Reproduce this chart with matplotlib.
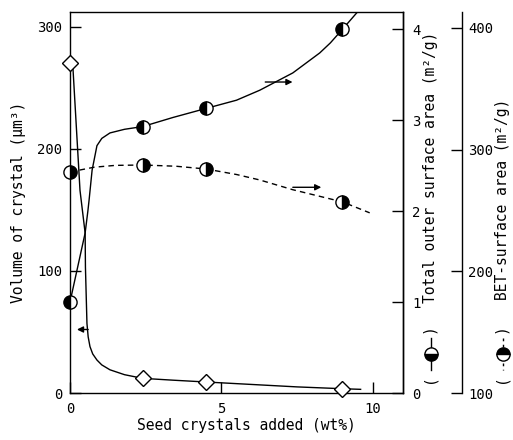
import matplotlib
matplotlib.use("Agg")
import matplotlib.pyplot as plt
from matplotlib.lines import Line2D

plt.rcParams["font.family"] = ["DejaVu Sans Mono", "DejaVu Sans"]

# Volume of crystal (left axis), open diamonds
vol_x = [0.0, 2.4, 4.5, 9.0]
vol_y = [270, 12, 9, 3.5]
vol_curve_x = [0, 0.1, 0.33, 0.5, 0.51, 0.56, 0.6, 0.66, 0.75, 0.89, 1.05, 1.32,
               1.8, 2.4, 3.4, 4.5, 6.0, 7.5, 9.0, 9.6]
vol_curve_y = [270, 265, 166, 131, 103, 57, 46, 38, 32, 27, 23, 19,
               15, 12, 10.5, 9, 7, 5, 3.5, 3]

# Total outer surface area (first right axis), solid line
outer_x = [0.0, 2.4, 4.5, 9.0]
outer_y = [1.0, 2.93, 3.13, 4.0]
outer_curve_x = [0, 0.25, 0.5, 0.59, 0.63, 0.73, 0.89, 1.05, 1.32, 1.8, 2.4,
                 3.4, 4.5, 5.5, 6.27, 7.36, 8.25, 8.6, 9.0, 9.47]
outer_curve_y = [1.0, 1.38, 1.76, 2.0, 2.12, 2.45, 2.72, 2.8, 2.86, 2.9, 2.93,
                 3.03, 3.13, 3.22, 3.33, 3.52, 3.74, 3.85, 4.0, 4.18]

# BET surface area (second right axis), dashed line
bet_x = [0.0, 2.4, 4.5, 9.0]
bet_y = [281.6, 287.3, 284, 257]
bet_curve_x = [0, 0.8, 1.5, 2.4, 3.5, 4.5, 5.5, 6.27, 7.36, 9.0, 9.9]
bet_curve_y = [281.6, 285.5, 287, 287.3, 286.3, 284, 279.5, 275, 267, 257, 248]

x_ticks = [0, 5, 10]
vol_ticks = [0, 100, 200, 300]
outer_ticks = [0, 1, 2, 3, 4]
bet_ticks = [100, 200, 300, 400]

fig = plt.figure(figsize=(5.13, 4.4), dpi=100)
ax = fig.add_axes([70 / 513, 1 - 393 / 440, 333 / 513, 381 / 440])
ax2 = ax.twinx()
ax3 = ax.twinx()

ax.set_xlim(0, 11.0)
ax.set_ylim(0, 312)
ax2.set_ylim(0, 4.19)
ax3.set_ylim(100, 413)

# curves
ax.plot(vol_curve_x, vol_curve_y, color="k", lw=1.0, zorder=2)
ax.plot(vol_x, vol_y, ls="none", marker="D", ms=8, mfc="white", mec="k", mew=1.0,
        zorder=4, clip_on=False)

ax2.plot(outer_curve_x, outer_curve_y, color="k", lw=1.0, zorder=2)
ax2.plot(outer_x, outer_y, ls="none", marker="o", ms=9.5, fillstyle="left",
         mfc="k", mfcalt="white", mec="k", mew=1.0, zorder=4, clip_on=False)

ax3.plot(bet_curve_x, bet_curve_y, color="k", lw=1.0, dashes=(4, 3), zorder=2)
ax3.plot(bet_x, bet_y, ls="none", marker="o", ms=9.5, fillstyle="right",
         mfc="k", mfcalt="white", mec="k", mew=1.0, zorder=4, clip_on=False)

# arrows pointing to the relevant axis
arrow = dict(arrowstyle="-|>", lw=1.0, color="k", mutation_scale=9, shrinkA=0, shrinkB=0)
ax.annotate("", xy=(0.23, 52), xytext=(0.6, 52), arrowprops=arrow)
ax2.annotate("", xy=(7.35, 3.42), xytext=(6.45, 3.42), arrowprops=arrow)
ax3.annotate("", xy=(8.3, 269), xytext=(7.36, 269), arrowprops=arrow)

# axes styling
ax.set_xticks(x_ticks)
ax.set_yticks(vol_ticks)
ax.tick_params(axis="both", direction="in", length=8, width=1.0, labelsize=10)
ax.tick_params(axis="y", pad=5.5)
ax.tick_params(axis="x", pad=6.5)
for s in ax.spines.values():
    s.set_linewidth(1.0)

ax2.set_yticks(outer_ticks)
ax2.tick_params(axis="y", direction="in", length=8, width=1.0, labelsize=10, pad=6.5)
for name, s in ax2.spines.items():
    s.set_visible(name == "right")
    s.set_linewidth(1.0)

ax3.set_yticks(bet_ticks)
ax3.tick_params(axis="y", direction="in", length=8, width=1.0, labelsize=10, pad=4.5)
for name, s in ax3.spines.items():
    s.set_visible(name == "right")
ax3.spines["right"].set_position(("axes", (462 - 70) / 333))
ax3.spines["right"].set_linewidth(1.0)

ax.set_ylabel("Volume of crystal (\u03bcm\u00b3)", fontsize=10.5, labelpad=8)
ax.set_xlabel("Seed crystals added (wt%)", fontsize=10.5)
ax.xaxis.set_label_coords((246 - 70) / 333, -(425 - 393) / 381, transform=ax.transAxes)
ax.xaxis.label.set_va("center")


def fx(px):
    return px / 513


def fy(py):
    return 1 - py / 440


# right-hand labels with their legend keys
fig.text(fx(431), fy(303), "Total outer surface area (m\u00b2/g)", rotation=90,
         ha="center", va="bottom", fontsize=10.5)
fig.text(fx(429), fy(329), ")", rotation=90, ha="center", va="center", fontsize=10.5)
fig.text(fx(429), fy(379), "(", rotation=90, ha="center", va="center", fontsize=10.5)
fig.add_artist(Line2D([fx(431), fx(431)], [fy(338), fy(370)], color="k", lw=1.0,
                      transform=fig.transFigure))
fig.add_artist(Line2D([fx(431)], [fy(354)], marker="o", ms=9.5, fillstyle="bottom",
                      mfc="k", mfcalt="white", mec="k", mew=1.0, transform=fig.transFigure))

fig.text(fx(503), fy(300), "BET-surface area (m\u00b2/g)", rotation=90,
         ha="center", va="bottom", fontsize=10.5)
fig.text(fx(501), fy(329), ")", rotation=90, ha="center", va="center", fontsize=10.5)
fig.text(fx(501), fy(379), "(", rotation=90, ha="center", va="center", fontsize=10.5)
fig.add_artist(Line2D([fx(503), fx(503)], [fy(338), fy(370)], color="k", lw=1.0,
                      dashes=(2, 2.5), transform=fig.transFigure))
fig.add_artist(Line2D([fx(503)], [fy(354)], marker="o", ms=9.5, fillstyle="top",
                      mfc="k", mfcalt="white", mec="k", mew=1.0, transform=fig.transFigure))

fig.savefig("out.png", dpi=100)
